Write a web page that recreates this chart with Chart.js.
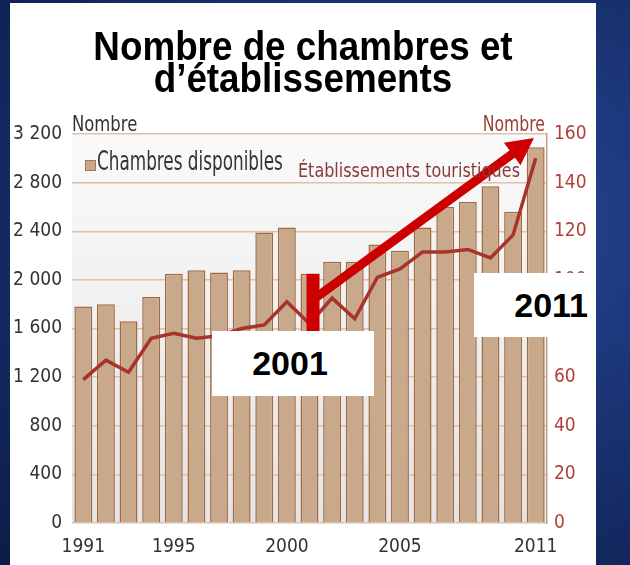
<html lang="fr">
<head>
<meta charset="UTF-8">
<title>Nombre de chambres et d'établissements</title>
<script src="https://cdn.jsdelivr.net/npm/chart.js"></script>
<style>
  body { margin: 0; width: 630px; height: 565px; overflow: hidden;
         background: radial-gradient(ellipse at 70% 40%, #2a4a9a 0%, #1a3475 45%, #0c1c48 100%); }
  #panel { position: absolute; left: 10px; top: 3px; width: 586px; height: 562px; background: #fff; }
  #chart { position: absolute; left: 0; top: 0; }
  .txt { position: absolute; white-space: nowrap; font-family: 'DejaVu Sans Condensed', 'Liberation Sans', sans-serif; }
  #title { position: absolute; left: 10px; width: 586px; top: 30px; text-align: center;
           font: bold 40px 'Liberation Sans', Arial, sans-serif; line-height: 32px; color: #000;
           transform: scaleX(0.92); }
  .box { position: absolute; background: #fff; font: bold 34px 'Liberation Sans', Arial, sans-serif; color: #000; }
</style>
</head>
<body>
<div id="panel"></div>
<canvas id="chart" width="630" height="565"></canvas>

<div id="title">Nombre de chambres et<br>d’établissements</div>
<div class="txt" style="left:72px; top:114px; font-size:21px; line-height:21px; color:#333; transform:scaleX(0.87); transform-origin:left;">Nombre</div>
<div class="txt" style="right:85px; top:114px; font-size:21px; line-height:21px; color:#9a3f38; transform:scaleX(0.83); transform-origin:right;">Nombre</div>
<div style="position:absolute; left:85px; top:160px; width:9px; height:9px; background:#c9a98b; border:1px solid #a8754f;"></div>
<div class="txt" style="left:97px; top:148px; font-size:26px; line-height:26px; color:#333; transform:scaleX(0.72); transform-origin:left;">Chambres disponibles</div>
<div class="txt" style="left:298px; top:160px; font-size:20px; line-height:20px; color:#8a3a3a; transform:scaleX(0.89); transform-origin:left;">Établissements touristiques</div>

<div class="box" style="left:212px; top:331px; width:162px; height:65px; line-height:65px; text-align:center; box-sizing:border-box; padding-right:6px;">2001</div>
<div class="box" style="left:474px; top:273px; width:122px; height:64px; line-height:64px; text-align:right; box-sizing:border-box; padding-right:8px;">2011</div>

<script>
// données
const years = ['1991','1992','1993','1994','1995','1996','1997','1998','1999','2000',
               '2001','2002','2003','2004','2005','2006','2007','2008','2009','2010','2011'];
const chambres = [1780, 1800, 1660, 1860, 2050, 2080, 2060, 2080, 2390, 2430,
                  2050, 2150, 2150, 2290, 2240, 2430, 2600, 2640, 2770, 2560, 3090];
const etablissements = [59, 67, 62, 76, 78, 76, 77, 80, 81.5, 91,
                        82, 92.5, 84, 101, 104.5, 111.5, 111.5, 112.5, 109, 118.5, 150];
const xTickLabels = ['1991', '1995', '2000', '2005', '2011'];

const narrow = "'DejaVu Sans Condensed', 'Liberation Sans', sans-serif";

function fmt(v) {
    if (v < 1000) return String(v);
    return Math.floor(v / 1000) + ' ' + String(v % 1000).padStart(3, '0');
}

// fond gris dégradé de la zone de tracé
const plotBg = {
    id: 'plotBg',
    beforeDraw(chart) {
        const { ctx, chartArea: a } = chart;
        const g = ctx.createLinearGradient(0, a.top, 0, a.bottom);
        g.addColorStop(0, '#fafafa');
        g.addColorStop(1, '#e4e4e4');
        ctx.save();
        ctx.fillStyle = g;
        ctx.fillRect(a.left, a.top, a.right - a.left, a.bottom - a.top);
        ctx.restore();
    }
};

// flèche rouge de 2001 vers 2011
const arrow = {
    id: 'arrow',
    afterDraw(chart) {
        const { ctx, chartArea: a } = chart;
        const xs = chart.scales.x, yl = chart.scales.y;
        const bx = xs.getPixelForValue(10) + 4;
        const topY = yl.getPixelForValue(2050);
        ctx.save();
        ctx.fillStyle = '#cc0000';
        ctx.strokeStyle = '#cc0000';
        // montant vertical
        ctx.fillRect(bx - 7, topY, 13, 340 - topY);
        // tige diagonale
        const x0 = bx + 2, y0 = topY + 24;
        const x1 = a.right - 13, y1 = a.top + 4;
        const dx = x1 - x0, dy = y1 - y0, len = Math.hypot(dx, dy);
        const ux = dx / len, uy = dy / len;
        const hl = 27, hw = 14;
        ctx.lineWidth = 9;
        ctx.beginPath();
        ctx.moveTo(x0, y0);
        ctx.lineTo(x1 - ux * (hl - 2), y1 - uy * (hl - 2));
        ctx.stroke();
        // pointe
        const bxh = x1 - ux * hl, byh = y1 - uy * hl;
        ctx.beginPath();
        ctx.moveTo(x1, y1);
        ctx.lineTo(bxh - uy * hw, byh + ux * hw);
        ctx.lineTo(bxh + uy * hw, byh - ux * hw);
        ctx.closePath();
        ctx.fill();
        ctx.restore();
    }
};

new Chart(document.getElementById('chart'), {
    data: {
        labels: years,
        datasets: [
            {
                type: 'line',
                label: 'Établissements touristiques',
                data: etablissements,
                yAxisID: 'y1',
                borderColor: '#a8332a',
                borderWidth: 3.5,
                pointRadius: 0,
                tension: 0,
                order: 0
            },
            {
                type: 'bar',
                label: 'Chambres disponibles',
                data: chambres,
                yAxisID: 'y',
                backgroundColor: '#c9a98b',
                borderColor: '#a36a42',
                borderWidth: 1.5,
                categoryPercentage: 1,
                barPercentage: 0.79,
                order: 1
            }
        ]
    },
    options: {
        responsive: false,
        animation: false,
        devicePixelRatio: 1,
        layout: { padding: { top: 134, left: 0, right: 0, bottom: 0 } },
        plugins: { legend: { display: false }, tooltip: { enabled: false } },
        scales: {
            x: {
                grid: { display: false },
                border: { display: false },
                afterFit(s) { s.height = 42; },
                ticks: {
                    autoSkip: false, maxRotation: 0, padding: 5,
                    color: '#333', font: { family: narrow, size: 19 },
                    callback(v, i) { return xTickLabels.includes(years[i]) ? years[i] : ''; }
                }
            },
            y: {
                position: 'left',
                min: 0, max: 3200,
                afterFit(s) { s.width = 72; },
                grid: { color: '#dcc2a8', lineWidth: 1.5, drawTicks: false },
                border: { display: false },
                ticks: {
                    stepSize: 400, padding: 10,
                    color: '#333', font: { family: narrow, size: 19 },
                    callback: v => fmt(v)
                }
            },
            y1: {
                position: 'right',
                min: 0, max: 160,
                afterFit(s) { s.width = 83; },
                grid: { drawOnChartArea: false, drawTicks: false },
                border: { display: true, color: '#c8a080', width: 1.5 },
                ticks: {
                    stepSize: 20, padding: 7,
                    color: '#b0403a', font: { family: narrow, size: 19 }
                }
            }
        }
    },
    plugins: [plotBg, arrow]
});
</script>
</body>
</html>
